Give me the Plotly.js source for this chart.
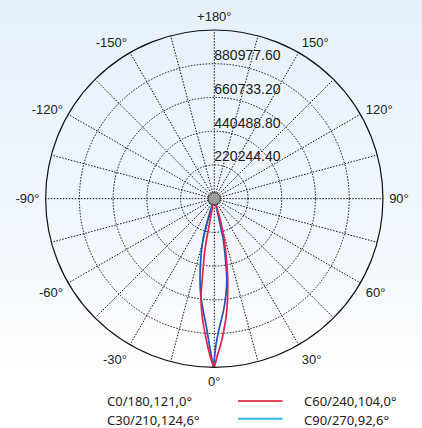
<!DOCTYPE html>
<html>
<head>
<meta charset="utf-8">
<script src="https://cdn.plot.ly/plotly-3.0.1.min.js"></script>
<style>
  html, body { margin: 0; padding: 0; }
  body { width: 422px; height: 428px; background: linear-gradient(to bottom, #e7f1fb 0%, #f1f7fd 55%, #ffffff 88%); }
  #chart { width: 422px; height: 428px; }
</style>
</head>
<body>
<div id="chart"></div>
<script>
// ---- data ----
const angularTickVals = [0,15,30,45,60,75,90,105,120,135,150,165,180,195,210,225,240,255,270,285,300,315,330,345];
const angularTickText = ["0°","","30°","","60°","","90°","","120°","","150°","","+180°","","-150°","","-120°","","-90°","","-60°","","-30°",""];
const radialTickVals = [220244.4, 440488.8, 660733.2, 880977.6];
const radialTickText = ["220244.40", "440488.80", "660733.20", "880977.60"];
const radialMax = 1101222;

const seriesNames = ["C0/180,121,0°", "C30/210,124,6°", "C60/240,104,0°", "C90/270,92,6°"];

// red curve (C60/240)
const redTheta = [-90, -11.6, -11.0, -10.8, -10.1, -8.6, -7.9, -6.4, -4.55, -2.74, -1.3, 0, 0.86, 2.5, 4.4, 6.3, 7.9, 9.6, 11.8, 13.8, 15.7, 16.5, 90];
const redR     = [0, 70000, 150000, 262000, 372000, 524000, 633000, 740000, 847000, 955000, 1040000, 1101222, 1040000, 955000, 847000, 740000, 633000, 525000, 374000, 265000, 154000, 70000, 0];

// blue curve (C90/270)
const blueTheta = [-90, -17.8, -17.1, -15.6, -13.3, -10.2, -8.05, -5.6, -3.4, -1.96, -0.93, -0.35, 0.67, 2.2, 4.6, 6.9, 8.9, 10.8, 12.5, 12.9, 13.2, 90];
const blueR     = [0, 70000, 155000, 267000, 376000, 527000, 634000, 739000, 846000, 954000, 1040000, 1101222, 954000, 845000, 738000, 632000, 525000, 373000, 263000, 152000, 70000, 0];

const centerR = [0];
const centerTheta = [0];

// ---- chart ----
const W = 422, H = 428;
const px = x => x / W;
const py = y => 1 - y / H;

const traces = [
  {
    type: 'scatterpolar', mode: 'lines', name: seriesNames[3],
    r: blueR, theta: blueTheta,
    line: {color: '#1f56b8', width: 1.7, shape: 'spline', smoothing: 0.3},
    hoverinfo: 'skip'
  },
  {
    type: 'scatterpolar', mode: 'lines', name: seriesNames[2],
    r: redR, theta: redTheta,
    line: {color: '#e8204c', width: 1.7, shape: 'spline', smoothing: 0.3},
    hoverinfo: 'skip'
  },
  {
    type: 'scatterpolar', mode: 'markers', name: 'center',
    r: centerR, theta: centerTheta,
    marker: {size: 12, color: '#9c9c9c', line: {color: '#444', width: 1}},
    hoverinfo: 'skip'
  },
  {
    type: 'scatterpolar', mode: 'text', name: 'labels',
    r: radialTickVals, theta: radialTickVals.map(() => 180),
    text: radialTickText, textposition: 'top right',
    textfont: {family: 'Liberation Sans, Arial, sans-serif', size: 14, color: '#1a1a1a'},
    hoverinfo: 'skip', cliponaxis: false
  }
];

const gridColor = '#111';
const layout = {
  width: W, height: H,
  margin: {l: 0, r: 0, t: 0, b: 0},
  paper_bgcolor: 'rgba(0,0,0,0)',
  showlegend: false,
  font: {family: 'Liberation Sans, Arial, sans-serif', color: '#222'},
  polar: {
    domain: {x: [px(45.6), px(383.0)], y: [py(367.3), py(30.0)]},
    bgcolor: 'rgba(0,0,0,0)',
    angularaxis: {
      rotation: -90, direction: 'counterclockwise',
      tickmode: 'array', tickvals: angularTickVals, ticktext: angularTickText,
      showline: true, linecolor: '#111', linewidth: 1.2,
      showgrid: true, gridcolor: gridColor, gridwidth: 1, griddash: '1.5px,1.5px',
      ticks: 'outside', ticklen: 3, tickcolor: 'rgba(0,0,0,0)',
      tickfont: {size: 13, color: '#222'}
    },
    radialaxis: {
      range: [0, radialMax], angle: 90,
      tickmode: 'array', tickvals: radialTickVals,
      showticklabels: false, ticks: '', showline: false,
      showgrid: true, gridcolor: gridColor, gridwidth: 1, griddash: '1.5px,1.5px'
    }
  },
  annotations: [
    {text: seriesNames[0], x: px(105), y: py(401), xref: 'paper', yref: 'paper', xanchor: 'left', yanchor: 'middle', showarrow: false, font: {family: 'Noto Sans, sans-serif', size: 13, color: '#222'}},
    {text: seriesNames[1], x: px(105), y: py(419.5), xref: 'paper', yref: 'paper', xanchor: 'left', yanchor: 'middle', showarrow: false, font: {family: 'Noto Sans, sans-serif', size: 13, color: '#222'}},
    {text: seriesNames[2], x: px(301.5), y: py(401), xref: 'paper', yref: 'paper', xanchor: 'left', yanchor: 'middle', showarrow: false, font: {family: 'Noto Sans, sans-serif', size: 13, color: '#222'}},
    {text: seriesNames[3], x: px(301.5), y: py(419.5), xref: 'paper', yref: 'paper', xanchor: 'left', yanchor: 'middle', showarrow: false, font: {family: 'Noto Sans, sans-serif', size: 13, color: '#222'}}
  ],
  shapes: [
    {type: 'line', xref: 'paper', yref: 'paper', x0: px(238), x1: px(282.5), y0: py(401), y1: py(401), line: {color: '#e0485c', width: 2}},
    {type: 'line', xref: 'paper', yref: 'paper', x0: px(238), x1: px(282.5), y0: py(418.7), y1: py(418.7), line: {color: '#33b6ea', width: 2}}
  ]
};

Plotly.newPlot('chart', traces, layout, {staticPlot: true, displayModeBar: false});
</script>
</body>
</html>
